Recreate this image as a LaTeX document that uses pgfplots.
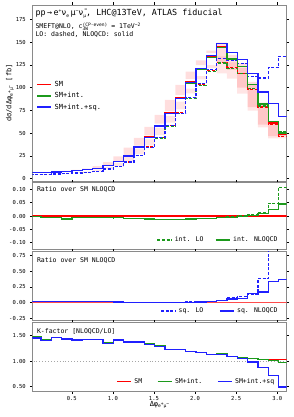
\documentclass[border=0pt]{standalone}
\usepackage{fontspec}
\setmainfont{DejaVu Sans Mono}
\usepackage{pgfplots}
\pgfplotsset{compat=1.18}
\usepackage{pgfplotstable}
\definecolor{cR}{HTML}{FF0000}
\definecolor{cG}{HTML}{1C9A1C}
\definecolor{cB}{HTML}{2020FF}
\definecolor{framec}{HTML}{8A8A8A}
\newcommand{\tfont}{\fontsize{6.5}{8.5}\selectfont}
\newcommand{\kfont}{\fontsize{5.5}{6.5}\selectfont}
\newcommand{\sps}[1]{\raisebox{0.75ex}{\fontsize{4.6}{5}\selectfont #1}}
\newcommand{\sbs}[1]{\raisebox{-0.35ex}{\fontsize{4.6}{5}\selectfont #1}}

\pgfplotstableread{
x R G B RL GL BL Rlo Rw RLlo RLw ri rl sqn sql KR KG KB
0.0000 6.3 6.28 6.34 4.29 4.27 4.37 6.11 0.38 4.08 0.42 -0.003 -0.003 0.010 0.015 1.47 1.471 1.453
0.1257 6.6 6.56 6.63 4.68 4.65 4.73 6.40 0.40 4.45 0.46 -0.006 -0.005 0.010 0.012 1.41 1.411 1.401
0.2513 7.1 7.06 7.14 4.86 4.82 4.91 6.89 0.42 4.62 0.48 -0.006 -0.006 0.012 0.012 1.46 1.464 1.456
0.3770 7.8 7.71 7.81 5.45 5.37 5.46 7.57 0.46 5.18 0.54 -0.011 -0.010 0.012 0.012 1.43 1.436 1.429
0.5027 8.6 8.54 8.67 6.06 6.00 6.13 8.34 0.52 5.76 0.60 -0.007 -0.007 0.015 0.015 1.42 1.423 1.414
0.6283 9.7 9.64 9.84 6.83 6.77 6.95 9.41 0.58 6.49 0.68 -0.006 -0.006 0.020 0.018 1.42 1.424 1.416
0.7540 11.2 11.13 11.36 7.89 7.82 7.99 10.86 0.68 7.50 0.78 -0.006 -0.006 0.020 0.015 1.42 1.424 1.422
0.8796 14.0 13.92 14.08 10.37 10.29 10.43 13.58 0.84 9.85 1.04 -0.006 -0.006 0.012 0.010 1.35 1.352 1.350
1.0053 18.5 18.37 18.52 13.12 12.99 13.14 17.95 1.11 12.46 1.32 -0.007 -0.007 0.008 0.008 1.41 1.414 1.410
1.1310 25.0 24.80 24.80 18.25 18.03 18.08 24.25 1.50 17.34 1.82 -0.008 -0.009 0.000 0.002 1.37 1.375 1.372
1.2566 35.0 34.69 34.69 25.55 25.20 25.27 33.95 2.10 24.27 2.56 -0.009 -0.010 0.000 0.002 1.37 1.376 1.373
1.3823 46.0 45.49 45.26 34.59 34.08 34.08 44.62 2.76 32.86 3.46 -0.011 -0.011 -0.005 0.000 1.33 1.335 1.328
1.5080 58.5 57.80 57.80 45.35 44.65 44.77 56.75 3.51 43.08 4.54 -0.012 -0.012 0.000 0.002 1.29 1.294 1.291
1.6336 72.0 71.14 71.14 58.54 57.68 57.90 69.84 4.32 55.61 5.86 -0.012 -0.012 0.000 0.003 1.23 1.233 1.229
1.7593 89.0 87.93 88.20 72.36 71.29 71.74 86.33 5.34 68.74 7.24 -0.012 -0.012 0.003 0.005 1.23 1.233 1.230
1.8850 106.0 104.83 105.36 89.08 87.91 88.76 102.82 6.36 84.63 8.90 -0.011 -0.011 0.005 0.008 1.19 1.193 1.187
2.0106 121.0 119.79 120.76 103.86 102.65 104.10 117.37 7.26 98.67 10.38 -0.010 -0.010 0.008 0.012 1.165 1.167 1.160
2.1363 134.0 132.79 134.80 118.58 117.51 120.19 129.98 8.04 112.65 11.86 -0.009 -0.008 0.015 0.020 1.13 1.130 1.122
2.2619 145.0 143.99 148.34 127.75 126.88 131.96 140.65 8.70 121.36 12.78 -0.007 -0.006 0.030 0.035 1.135 1.140 1.124
2.3876 132.0 131.34 138.60 121.66 121.13 130.37 128.04 7.92 115.58 12.16 -0.005 -0.004 0.055 0.070 1.085 1.090 1.085
2.5133 123.0 122.75 130.75 115.49 115.49 126.56 119.31 7.38 109.72 11.56 -0.002 0.000 0.065 0.090 1.065 1.063 1.050
2.6389 103.0 103.31 115.67 98.10 98.72 112.11 99.91 6.18 93.20 9.81 0.003 0.006 0.140 0.130 1.05 1.046 0.980
2.7646 81.0 81.81 95.18 78.64 79.77 110.55 78.57 4.86 74.71 7.86 0.010 0.014 0.165 0.380 1.03 1.026 0.880
2.8903 61.0 62.53 82.66 59.22 62.15 121.93 59.17 3.66 56.26 5.92 0.025 0.048 0.330 0.980 1.03 1.006 0.720
3.0159 48.0 50.16 67.92 46.60 51.88 134.44 46.56 2.88 44.27 4.66 0.045 0.108 0.370 1.720 1.03 0.975 0.490
3.1416 48.0 50.16 67.92 46.60 51.88 134.44 46.56 2.88 44.27 4.66 0.045 0.108 0.370 1.720 1.03 0.975 0.490
}\data

\pgfplotsset{
  legend image code/.code={\draw[#1, line width=1.5pt] (0pt,0pt) -- (14pt,0pt);},
  panel/.style={
    scale only axis, width=254.4pt, xmin=0.02, xmax=3.115,
    anchor=north west,
    axis line style={draw=framec, line width=0.8pt},
    tick style={black, line width=0.45pt},
    major tick length=2.5pt,
    xtick pos=both, ytick pos=both,
    tick align=outside,
    xtick={0.5,1,1.5,2,2.5,3},
    xticklabels={},
    ticklabel style={font=\kfont},
    yticklabel style={xshift=-0.5pt},
    /pgf/number format/assume math mode=true,
    legend cell align=left,
    legend style={draw=none, fill=none, font=\tfont, inner sep=0pt,
      nodes={inner ysep=1.2pt, inner xsep=2.6pt}},
  },
  bandax/.style={scale only axis, width=254.4pt, xmin=0.02, xmax=3.115,
    anchor=north west, at={(32.3pt,-5pt)}, height=176pt,
    ymin=-2.7, ymax=190.7, hide axis, stack plots=y},
  st/.style={const plot mark left, line width=1.25pt},
  dsh/.style={dash pattern=on 3pt off 1.6pt},
}

\begin{document}
\begin{tikzpicture}
\path[use as bounding box] (0pt,0pt) rectangle (293pt,-417pt);

% ---------------- bands (overlay axes with same geometry)
\begin{axis}[bandax]
\addplot[ybar interval, draw=none, fill=none] table[x=x,y=RLlo]{\data};
\addplot[ybar interval, draw=none, fill=cR, fill opacity=0.10] table[x=x,y=RLw]{\data};
\end{axis}
\begin{axis}[bandax]
\addplot[ybar interval, draw=none, fill=none] table[x=x,y=Rlo]{\data};
\addplot[ybar interval, draw=none, fill=cR, fill opacity=0.13] table[x=x,y=Rw]{\data};
\end{axis}

% ---------------- main panel
\begin{axis}[panel, at={(32.3pt,-5pt)}, height=176pt,
  ymin=-2.7, ymax=190.7, ytick={0,25,...,175},
  ylabel={dσ/dΔφ\sbs{e\sps{+}μ\sps{−}} [fb]},
  ylabel style={font=\fontsize{7}{8}\selectfont, at={(axis description cs:-0.088,0.5)}, anchor=center},
  legend style={at={(axis description cs:0.016,0.574)}, anchor=north west, row sep=2pt,
    font=\fontsize{7}{8}\selectfont}]
\addplot[st, color=cR, dsh, forget plot] table[x=x,y=RL]{\data};
\addplot[st, color=cG, dsh, forget plot] table[x=x,y=GL]{\data};
\addplot[st, color=cB, dsh, forget plot] table[x=x,y=BL]{\data};
\addplot[st, color=cR, forget plot] table[x=x,y=R]{\data};
\addplot[st, color=cG, forget plot] table[x=x,y=G]{\data};
\addplot[st, color=cB, forget plot] table[x=x,y=B]{\data};
\addlegendimage{color=cR}
\addlegendentry{SM}
\addlegendimage{color=cG}
\addlegendentry{SM+int.}
\addlegendimage{color=cB}
\addlegendentry{SM+int.+sq.}
\node[anchor=north west, font=\fontsize{8.4}{9}\selectfont, inner sep=0pt] at (rel axis cs:0.012,0.978)
 {pp\,→\,e\sps{+}ν\sbs{e}\,μ\sps{−}\={ν}\sbs{μ}, LHC@13TeV, ATLAS fiducial};
\node[anchor=north west, font=\tfont, align=left, inner sep=0pt] at (rel axis cs:0.012,0.901)
 {SMEFT@NLO, c\makebox[0pt][l]{\sbs{3W}}\sps{(CP-even)} = 1TeV\sps{−2}\\[-0.6pt]
  LO: dashed, NLOQCD: solid};
\end{axis}

% ---------------- ratio int
\begin{axis}[panel, at={(32.3pt,-182.7pt)}, height=66.6pt,
  ymin=-0.125, ymax=0.125, ytick={-0.1,-0.05,0,0.05,0.1},
  yticklabel style={/pgf/number format/.cd, fixed, fixed zerofill, precision=2},
  legend columns=2,
  legend style={at={(axis description cs:0.975,0.14)}, anchor=east,
    /tikz/every even column/.append style={column sep=9pt}}]
\addplot[color=cR, line width=1.2pt, forget plot] coordinates {(0,0) (3.2,0)};
\addplot[st, color=cG, dsh, forget plot] table[x=x,y=rl]{\data};
\addplot[st, color=cG, forget plot] table[x=x,y=ri]{\data};
\addlegendimage{color=cG, dsh}
\addlegendentry{int. LO}
\addlegendimage{color=cG}
\addlegendentry{int. NLOQCD}
\node[anchor=west, font=\tfont, inner sep=0pt] at (rel axis cs:0.018,0.90) {Ratio over SM NLOQCD};
\end{axis}

% ---------------- ratio sq
\begin{axis}[panel, at={(32.3pt,-251.5pt)}, height=69.2pt,
  ymin=-0.29, ymax=0.81, ytick={-0.25,0,0.25,0.5,0.75},
  yticklabel style={/pgf/number format/.cd, fixed, fixed zerofill, precision=2},
  legend columns=2,
  legend style={at={(axis description cs:0.975,0.14)}, anchor=east,
    /tikz/every even column/.append style={column sep=13pt}}]
\addplot[color=cR!70, line width=1.3pt, forget plot] coordinates {(0,0) (3.2,0)};
\addplot[st, color=cB, dsh, forget plot] table[x=x,y=sql]{\data};
\addplot[st, color=cB, forget plot] table[x=x,y=sqn]{\data};
\addlegendimage{color=cB, dsh}
\addlegendentry{sq. LO}
\addlegendimage{color=cB}
\addlegendentry{sq. NLOQCD}
\node[anchor=west, font=\tfont, inner sep=0pt] at (rel axis cs:0.018,0.877) {Ratio over SM NLOQCD};
\end{axis}

% ---------------- K-factor
\begin{axis}[panel, at={(32.3pt,-322.7pt)}, height=69pt,
  ymin=0.40, ymax=1.75, ytick={0.5,1,1.5},
  yticklabel style={/pgf/number format/.cd, fixed, fixed zerofill, precision=2},
  xticklabels={0.5,1.0,1.5,2.0,2.5,3.0},
  xticklabel style={yshift=1.2pt},
  xlabel={Δφ\sbs{e\sps{+}μ\sps{−}}},
  xlabel style={font=\fontsize{7}{8}\selectfont, at={(axis description cs:0.5,0)}, anchor=center, yshift=-13pt},
  legend columns=3,
  legend style={at={(axis description cs:0.962,0.145)}, anchor=east,
    /tikz/every even column/.append style={column sep=12pt}}]
\addplot[gray!70, dotted, line width=0.9pt, forget plot] coordinates {(0,1) (3.2,1)};
\addplot[st, color=cR, forget plot] table[x=x,y=KR]{\data};
\addplot[st, color=cG, forget plot] table[x=x,y=KG]{\data};
\addplot[st, color=cB, forget plot] table[x=x,y=KB]{\data};
\addlegendimage{color=cR, line width=1.5pt, solid}
\addlegendentry{SM}
\addlegendimage{color=cG, line width=1.5pt, solid}
\addlegendentry{SM+int.}
\addlegendimage{color=cB, line width=1.5pt, solid}
\addlegendentry{SM+int.+sq}
\node[anchor=west, font=\tfont, inner sep=0pt] at (rel axis cs:0.018,0.87) {K-factor [NLOQCD/LO]};
\end{axis}
\end{tikzpicture}
\end{document}
